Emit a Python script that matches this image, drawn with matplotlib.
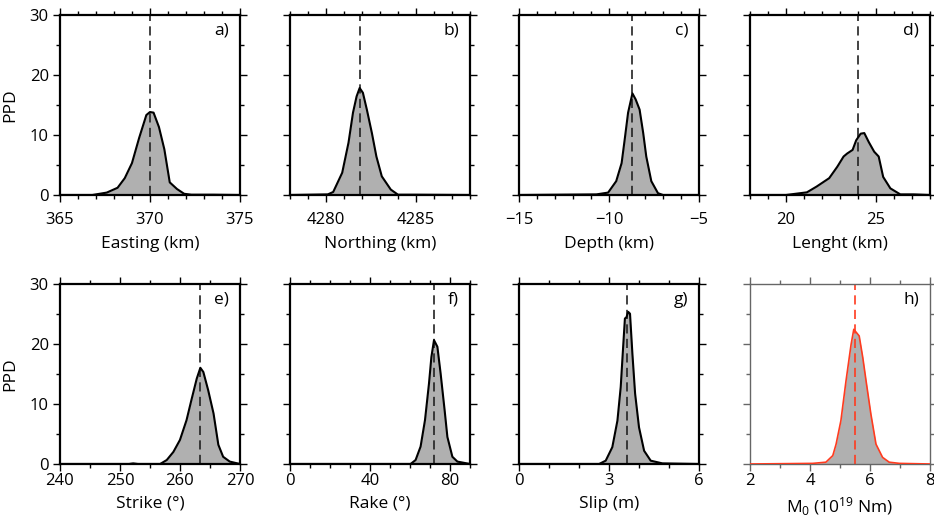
import numpy as np
import matplotlib
matplotlib.use("Agg")
import matplotlib.pyplot as plt
from matplotlib.ticker import MultipleLocator

plt.rcParams['font.family'] = ['Open Sans', 'DejaVu Sans']
plt.rcParams['mathtext.fontset'] = 'custom'
plt.rcParams['mathtext.rm'] = 'Open Sans'
plt.rcParams['mathtext.default'] = 'regular'

# posterior probability densities
easting_x = [365, 366.8, 367.6, 368.2, 368.6, 369.0, 369.4, 369.8, 370.0, 370.2,
             370.5, 370.8, 371.1, 371.5, 371.9, 372.3, 373.5, 375]
easting_y = [0, 0, 0.4, 1.2, 2.8, 5.3, 9.5, 13.3, 13.8, 13.7, 11.3, 7.6, 2.1,
             1.0, 0.2, 0.05, 0.05, 0]

northing_x = [4278, 4280.1, 4280.4, 4280.9, 4281.25, 4281.5, 4281.7, 4281.87,
              4282.05, 4282.27, 4282.55, 4282.8, 4283.1, 4283.6, 4284.0, 4285.0, 4288]
northing_y = [0, 0.1, 0.5, 3.7, 8.7, 13.7, 16.4, 17.8, 17.0, 14.2, 10.3, 6.4,
              3.1, 0.9, 0.05, 0.05, 0]

depth_x = [-15, -10.7, -10.05, -9.6, -9.3, -9.13, -8.94, -8.7, -8.52, -8.3,
           -8.1, -7.93, -7.65, -7.28, -7.0, -5]
depth_y = [0, 0.1, 0.4, 2.3, 5.3, 9.2, 13.7, 16.9, 15.9, 14.2, 10.3, 6.4, 2.3,
           0.3, 0, 0]

length_x = [18, 20, 21.16, 21.7, 22.4, 22.85, 23.2, 23.4, 23.7, 23.9, 24.15,
            24.35, 24.6, 24.9, 25.15, 25.4, 25.8, 26.35, 27.1, 28]
length_y = [0, 0, 0.44, 1.4, 2.8, 4.7, 6.4, 6.9, 7.5, 9.1, 10.2, 10.3, 8.8,
            7.2, 6.4, 3.0, 1.1, 0.1, 0.1, 0]

strike_x = [240, 251.5, 252.2, 253, 256.7, 257.8, 258.9, 260, 261.1, 261.9,
            262.8, 263.4, 263.9, 264.7, 265.6, 266.4, 267.2, 268.3, 270]
strike_y = [0, 0, 0.1, 0, 0, 0.66, 2.0, 4.0, 7.3, 10.6, 14.2, 16.0, 15.3,
            12.3, 8.4, 3.2, 1.2, 0.4, 0]

rake_x = [0, 60.3, 62.8, 65.3, 67.5, 69.5, 70.7, 72.0, 73.7, 75.3, 77.3,
          78.7, 81.2, 83.7, 90]
rake_y = [0, 0, 0.66, 2.9, 7.3, 13.4, 17.8, 20.6, 19.5, 15.1, 9.0, 4.5, 1.2,
          0.4, 0]

slip_x = [0, 2.67, 2.89, 3.11, 3.28, 3.39, 3.47, 3.53, 3.58, 3.64, 3.70,
          3.78, 3.87, 4.0, 4.17, 4.39, 4.78, 6]
slip_y = [0, 0, 0.55, 2.8, 7.2, 12.8, 19.4, 24.2, 24.4, 25.3, 25.0, 18.3,
          11.7, 6.1, 2.2, 0.55, 0.1, 0]

m0_x = [2, 4.09, 4.53, 4.76, 4.87, 5.03, 5.2, 5.37, 5.46, 5.64, 5.76, 5.87,
        6.03, 6.2, 6.42, 6.64, 6.98, 8]
m0_y = [0, 0.1, 0.3, 1.4, 3.3, 7.2, 13.8, 19.9, 22.4, 21.3, 17.7, 13.8, 8.3,
        3.3, 1.1, 0.3, 0.1, 0]

best = [370.0, 4281.9, -8.7, 24.0, 263.4, 71.8, 3.6, 5.5]
labels = ['Easting (km)', 'Northing (km)', 'Depth (km)', 'Lenght (km)',
          'Strike (°)', 'Rake (°)', 'Slip (m)', r'M$_0$ (10$^{19}$ Nm)']
tags = ['a)', 'b)', 'c)', 'd)', 'e)', 'f)', 'g)', 'h)']
xlims = [(365, 375), (4278, 4288), (-15, -5), (18, 28),
         (240, 270), (0, 90), (0, 6), (2, 8)]
major = [5, 5, 5, 5, 10, 40, 3, 2]
minor = [1, 1, 1, 1, 5, 10, 1, 1]

curves = [(easting_x, easting_y), (northing_x, northing_y), (depth_x, depth_y),
          (length_x, length_y), (strike_x, strike_y), (rake_x, rake_y),
          (slip_x, slip_y), (m0_x, m0_y)]

fig = plt.figure(figsize=(9.34, 5.19), dpi=100)
lefts = [0.0642, 0.3105, 0.5557, 0.8030]
bottoms = [0.6243, 0.106]
w, h = 0.1927, 0.3475

for i in range(8):
    row, col = divmod(i, 4)
    ax = fig.add_axes([lefts[col], bottoms[row], w, h])
    x, y = curves[i]
    last = (i == 7)
    line_c = '#ff3b1f' if last else 'black'
    dash_c = '#ff3b1f' if last else '#222222'
    frame_c = '#666666' if last else 'black'

    ax.fill_between(x, 0, y, color='#b0b0b0', lw=0, zorder=1)
    ax.plot(x, y, color=line_c, lw=1.2 if last else 1.5, zorder=3)
    ax.plot([best[i], best[i]], [0, 30], color=dash_c, lw=1.2,
            linestyle=(0, (5.5, 3.2)), zorder=2)

    ax.set_xlim(*xlims[i])
    ax.set_ylim(0, 30)
    ax.xaxis.set_major_locator(MultipleLocator(major[i]))
    ax.xaxis.set_minor_locator(MultipleLocator(minor[i]))
    ax.yaxis.set_major_locator(MultipleLocator(10))
    ax.yaxis.set_minor_locator(MultipleLocator(5))
    ax.tick_params(which='both', direction='out', top=True, right=True,
                   color=frame_c, labelsize=12, width=1.0)
    ax.tick_params(which='major', length=5)
    ax.tick_params(which='minor', length=3)
    ax.tick_params(axis='x', which='major', pad=7 if row == 0 else 1.5)
    ax.tick_params(axis='y', which='major', pad=3)
    for s in ax.spines.values():
        s.set_linewidth(1.0 if last else 1.6)
        s.set_color(frame_c)

    ax.set_xlabel(labels[i], fontsize=12.5, labelpad=6 if row == 0 else 5)
    if col == 0:
        ax.set_ylabel('PPD', fontsize=12.5, labelpad=8)
    else:
        ax.tick_params(axis='y', labelleft=False)
    ax.text(0.94, 0.955, tags[i], transform=ax.transAxes, ha='right',
            va='top', fontsize=12.5)

fig.savefig('out.png', dpi=100)
